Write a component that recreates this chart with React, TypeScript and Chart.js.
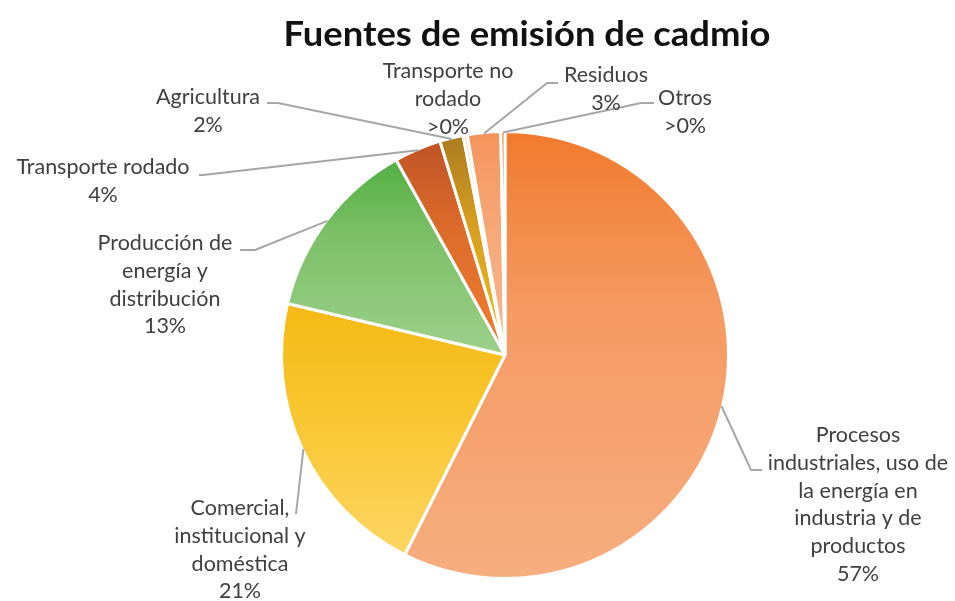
import React, { useEffect, useRef } from "react";
import { Chart, registerables } from "chart.js";

Chart.register(...registerables);

const titleText = "Fuentes de emisión de cadmio";

const categories = [
  "Procesos industriales, uso de la energía en industria y de productos",
  "Comercial, institucional y doméstica",
  "Producción de energía y distribución",
  "Transporte rodado",
  "Agricultura",
  "Transporte no rodado",
  "Residuos",
  "Otros",
];

const values = [57.4, 21.3, 13.2, 3.4, 1.7, 0.3, 2.4, 0.3];

const pctLabels = ["57%", "21%", "13%", "4%", "2%", ">0%", "3%", ">0%"];

const labelLines = [
  ["Procesos", "industriales, uso de", "la energía en", "industria y de", "productos"],
  ["Comercial,", "institucional y", "doméstica"],
  ["Producción de", "energía y", "distribución"],
  ["Transporte rodado"],
  ["Agricultura"],
  ["Transporte no", "rodado"],
  ["Residuos"],
  ["Otros"],
];

const colorTop = ["#F07A2C", "#F5B914", "#52AF43", "#BE5326", "#A97A1F", "#F6D3B5", "#F5945B", "#F07D38"];
const colorMid = ["#F59A62", "#F8C52C", "#7DC068", "#DC6A2A", "#D79D20", "#F6D3B5", "#F6A674", "#F07D38"];
const colorBottom = ["#F7AE80", "#FDD663", "#9DD08B", "#F07E30", "#F2BD1E", "#F6D3B5", "#F8BA94", "#F07D38"];

// label layout: text centre x, first line centre y, leader elbow & end (null = no leader)
const labelPos = [
  { x: 858, y: 435, elbow: [751, 470], end: [762, 470] },
  { x: 240, y: 508, elbow: [296, 514], end: [296, 514] },
  { x: 165, y: 243, elbow: [255, 250], end: [240, 250] },
  { x: 103, y: 167, elbow: [203, 175], end: [199, 175] },
  { x: 208, y: 97, elbow: [278, 103], end: [267, 103] },
  { x: 448, y: 71, elbow: null, end: null },
  { x: 606, y: 75, elbow: [547, 83], end: [558, 83] },
  { x: 685, y: 98, elbow: [641, 103], end: [654, 103] },
];

const LINE_H = 27.8;
const LABEL_FONT = "21.5px Lato";
const TEXT_COLOR = "#404040";
const LEADER_COLOR = "#A6A6A6";

function sliceGradient(ctx: any) {
  const chart = ctx.chart;
  const i = ctx.dataIndex;
  const area = chart.chartArea;
  if (!area) return colorTop[i];
  const cx = (area.left + area.right) / 2;
  const cy = (area.top + area.bottom) / 2;
  const r = Math.min(area.width, area.height) / 2;
  const total = values.reduce((a, b) => a + b, 0);
  let cum = 0;
  for (let k = 0; k < i; k++) cum += values[k];
  const a0 = -Math.PI / 2 + (2 * Math.PI * cum) / total;
  const a1 = -Math.PI / 2 + (2 * Math.PI * (cum + values[i])) / total;
  const ys = [cy, cy + r * Math.sin(a0), cy + r * Math.sin(a1)];
  const inRange = (a: number) => {
    for (let t = a - 4 * Math.PI; t <= a + 4 * Math.PI; t += 2 * Math.PI) {
      if (t >= a0 && t <= a1) return true;
    }
    return false;
  };
  if (inRange(Math.PI / 2)) ys.push(cy + r);
  if (inRange(-Math.PI / 2)) ys.push(cy - r);
  const yTop = Math.min(...ys);
  const yBot = Math.max(...ys);
  const g = chart.ctx.createLinearGradient(0, yTop, 0, Math.max(yBot, yTop + 1));
  g.addColorStop(0, colorTop[i]);
  g.addColorStop(0.4, colorMid[i]);
  g.addColorStop(1, colorBottom[i]);
  return g;
}

const labelPlugin = {
  id: "labelPlugin",
  afterDraw(chart: any) {
    const ctx = chart.ctx;
    const meta = chart.getDatasetMeta(0);
    ctx.save();
    // title
    ctx.fillStyle = "#111111";
    ctx.font = "bold 34px Lato";
    ctx.textAlign = "center";
    ctx.textBaseline = "alphabetic";
    const tw = ctx.measureText(titleText).width;
    const targetW = 487;
    ctx.save();
    ctx.translate(527, 46);
    ctx.scale(targetW / tw, 1);
    ctx.fillText(titleText, 0, 0);
    ctx.restore();

    // leaders
    ctx.strokeStyle = LEADER_COLOR;
    ctx.lineWidth = 2;
    meta.data.forEach((arc: any, i: number) => {
      const p = labelPos[i];
      if (!p || !p.elbow) return;
      const { x, y, startAngle, endAngle, outerRadius } = arc.getProps(
        ["x", "y", "startAngle", "endAngle", "outerRadius"],
        true
      );
      const mid = (startAngle + endAngle) / 2;
      const sx = x + Math.cos(mid) * (outerRadius - 1);
      const sy = y + Math.sin(mid) * (outerRadius - 1);
      ctx.beginPath();
      ctx.moveTo(sx, sy);
      ctx.lineTo(p.elbow[0], p.elbow[1]);
      ctx.lineTo(p.end![0], p.end![1]);
      ctx.stroke();
    });

    // texts
    ctx.fillStyle = TEXT_COLOR;
    ctx.font = LABEL_FONT;
    ctx.textAlign = "center";
    ctx.textBaseline = "middle";
    labelLines.forEach((lines, i) => {
      const p = labelPos[i];
      const all = [...lines, pctLabels[i]];
      all.forEach((t, j) => {
        ctx.fillText(t, p.x, p.y + j * LINE_H);
      });
    });
    ctx.restore();
  },
};

export default function App() {
  const ref = useRef<HTMLCanvasElement>(null);
  useEffect(() => {
    document.body.style.margin = "0";
    const chart = new Chart(ref.current!, {
      type: "pie",
      data: {
        labels: categories,
        datasets: [
          {
            data: values,
            backgroundColor: sliceGradient as any,
            borderColor: "#FFFFFF",
            borderWidth: 3,
          },
        ],
      },
      options: {
        animation: false,
        responsive: false,
        devicePixelRatio: 1,
        layout: { padding: { left: 280, right: 225, top: 129, bottom: 20 } },
        plugins: {
          legend: { display: false },
          title: { display: false },
          tooltip: { enabled: false },
        },
      },
      plugins: [labelPlugin],
    });
    return () => chart.destroy();
  }, []);
  return (
    <div style={{ width: 955, height: 601, background: "#fff" }}>
      <canvas ref={ref} width={955} height={601} />
    </div>
  );
}
